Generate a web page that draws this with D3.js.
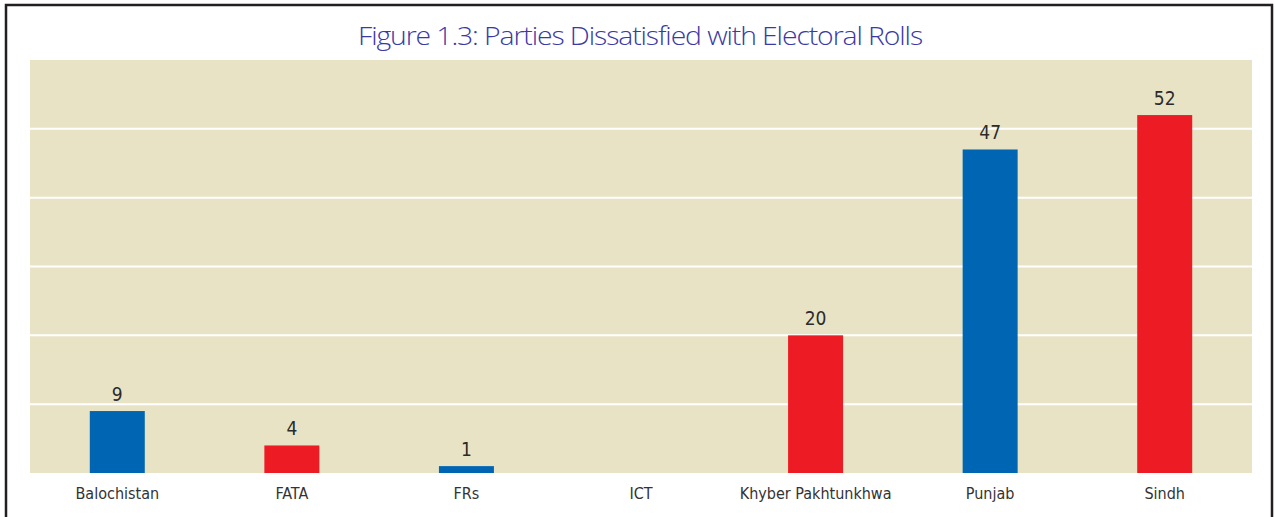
<!DOCTYPE html>
<html>
<head>
<meta charset="utf-8">
<script src="https://cdn.jsdelivr.net/npm/d3@7"></script>
<style>
  html, body { margin: 0; padding: 0; background: #ffffff; }
  svg { display: block; }
</style>
</head>
<body>
<svg id="chart" width="1275" height="517"></svg>
<script>
// Provinces / areas and the number of parties dissatisfied in each
const regions = ["Balochistan", "FATA", "FRs", "ICT", "Khyber Pakhtunkhwa", "Punjab", "Sindh"];
const parties = [9, 4, 1, 0, 20, 47, 52];
const barColors = ["#0066b3", "#ed1c24", "#0066b3", "#0066b3", "#ed1c24", "#0066b3", "#ed1c24"];
const gridValues = [10, 20, 30, 40, 50];
const titleText = "Figure 1.3: Parties Dissatisfied with Electoral Rolls";

const svg = d3.select("#chart");
const W = 1275, H = 517;
const plot = { left: 30, right: 1252, top: 60, bottom: 473 };

// Frame around the figure (open at the bottom)
svg.append("path")
  .attr("d", `M6,${H} L6,5 L1272,5 L1272,${H}`)
  .attr("fill", "none")
  .attr("stroke", "#231f20")
  .attr("stroke-width", 2.5);

// Title
svg.append("text")
  .attr("x", 640)
  .attr("y", 45)
  .attr("text-anchor", "middle")
  .attr("font-family", "'Open Sans', 'Liberation Sans', sans-serif")
  .attr("font-weight", 300)
  .attr("font-size", 26)
  .attr("letter-spacing", -1)
  .attr("textLength", 564)
  .attr("lengthAdjust", "spacingAndGlyphs")
  .attr("fill", "#3a3aa6")
  .text(titleText);

// Scales
const x = d3.scaleBand().domain(regions).range([plot.left, plot.right]).padding(0);
const y = d3.scaleLinear().domain([0, 60]).range([plot.bottom, plot.top]);
const barW = x.bandwidth() * 0.315;

// Plot background
svg.append("rect")
  .attr("x", plot.left).attr("y", plot.top)
  .attr("width", plot.right - plot.left).attr("height", plot.bottom - plot.top)
  .attr("fill", "#e8e3c5");

// Gridlines
svg.append("g")
  .selectAll("line")
  .data(gridValues)
  .join("line")
  .attr("x1", plot.left).attr("x2", plot.right)
  .attr("y1", d => y(d)).attr("y2", d => y(d))
  .attr("stroke", "#ffffff")
  .attr("stroke-width", 2);

const data = regions.map((r, i) => ({ region: r, value: parties[i], color: barColors[i] }));

// Bars
svg.append("g")
  .selectAll("rect")
  .data(data.filter(d => d.value > 0))
  .join("rect")
  .attr("x", d => x(d.region) + (x.bandwidth() - barW) / 2)
  .attr("y", d => y(d.value))
  .attr("width", barW)
  .attr("height", d => y(0) - y(d.value))
  .attr("fill", d => d.color);

const labelFont = "'Liberation Sans Narrow', 'DejaVu Sans Condensed', 'Roboto', sans-serif";

// Value labels
svg.append("g")
  .selectAll("text")
  .data(data.filter(d => d.value > 0))
  .join("text")
  .attr("x", d => x(d.region) + x.bandwidth() / 2)
  .attr("y", d => y(d.value) - 10)
  .attr("text-anchor", "middle")
  .attr("font-family", labelFont)
  .attr("font-size", 19)
  .attr("fill", "#2b2b2b")
  .text(d => d.value);

// Category axis
const xAxis = svg.append("g")
  .attr("transform", `translate(0,${plot.bottom})`)
  .call(d3.axisBottom(x).tickSize(0).tickPadding(15));
xAxis.select(".domain").remove();
xAxis.selectAll("text")
  .attr("font-family", labelFont)
  .attr("font-size", 16)
  .attr("fill", "#333333");
</script>
</body>
</html>
